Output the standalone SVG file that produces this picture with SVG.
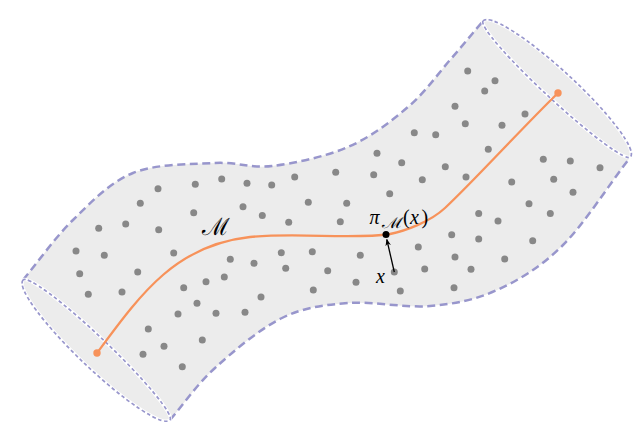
<svg xmlns="http://www.w3.org/2000/svg" width="643" height="435" viewBox="0 0 643 435">
<style>
.edge{fill:none;stroke:#9896cc;stroke-width:2.5;stroke-dasharray:8,4.5}
.halo{fill:none;stroke:#ffffff;stroke-width:3.4}
.cap{fill:none;stroke:#9896cc;stroke-width:1.7;stroke-dasharray:3.6,2.6}
.pt{fill:#888888}
.lbl{font-family:"Liberation Serif","DejaVu Serif",serif;font-style:italic;fill:#000}
.cal{font-family:"DejaVu Serif",serif;font-style:normal}
</style>
<defs>
<marker id="ah" viewBox="0 0 10 10" refX="9" refY="5" markerWidth="7" markerHeight="7" orient="auto" markerUnits="userSpaceOnUse">
<path d="M0,1 L10,5 L0,9 L3,5 Z" fill="#000"/>
</marker>
</defs>
<g id="tube">
<path fill="#ececec" d="M23,280 C39.7,260 54.7,237.8 73,220 C91.3,202.2 109.3,182.5 133,173 C156.7,163.5 191.8,164.2 215,163 C238.2,161.8 249.8,168.7 272,166 C294.2,163.3 325.3,156.8 348,147 C370.7,137.2 391,121.5 408,107 C425,92.5 437.5,74.3 450,60 C462.5,45.7 472,34 483,21 A100.1,18 42.77 0 1 630.5,157 C607.7,186.3 585.2,222.8 563,245 C540.8,267.2 519.2,279.8 497,290 C474.8,300.2 454.8,303.8 430,306 C405.2,308.2 372.7,301 348,303 C323.3,305 304.2,307.2 282,318 C259.8,328.8 233.7,351 215,368 C196.3,385 185,402.7 170,420 A101.4,18 43.66 0 1 23,280 Z"/>
<path class="edge" d="M23,280 C39.7,260 54.7,237.8 73,220 C91.3,202.2 109.3,182.5 133,173 C156.7,163.5 191.8,164.2 215,163 C238.2,161.8 249.8,168.7 272,166 C294.2,163.3 325.3,156.8 348,147 C370.7,137.2 391,121.5 408,107 C425,92.5 437.5,74.3 450,60 C462.5,45.7 472,34 483,21"/>
<path class="edge" d="M170,420 C185,402.7 196.3,385 215,368 C233.7,351 259.8,328.8 282,318 C304.2,307.2 323.3,305 348,303 C372.7,301 405.2,308.2 430,306 C454.8,303.8 474.8,300.2 497,290 C519.2,279.8 540.8,267.2 563,245 C585.2,222.8 607.7,186.3 630.5,157"/>
</g>
<g id="cap-top">
<path class="halo" d="M483,21 A100.1,18 42.77 0 1 630.5,157 A100.1,11 42.77 0 1 483,21"/>
<path class="cap" d="M483,21 A100.1,18 42.77 0 1 630.5,157 A100.1,11 42.77 0 1 483,21"/>
</g>
<g id="cap-bottom">
<path class="halo" d="M23,280 A101.4,18 43.66 0 0 170,420 A101.4,12 43.66 0 0 23,280"/>
<path class="cap" d="M23,280 A101.4,18 43.66 0 0 170,420 A101.4,12 43.66 0 0 23,280"/>
</g>
<g id="samples">
<circle class="pt" cx="158" cy="188.7" r="3.5"/><circle class="pt" cx="195.3" cy="184.3" r="3.5"/><circle class="pt" cx="140.3" cy="203.3" r="3.5"/><circle class="pt" cx="193.7" cy="212.7" r="3.5"/>
<circle class="pt" cx="414.3" cy="132.7" r="3.5"/><circle class="pt" cx="377" cy="153.3" r="3.5"/><circle class="pt" cx="401.7" cy="162.7" r="3.5"/><circle class="pt" cx="221.7" cy="179" r="3.5"/><circle class="pt" cx="247" cy="183.3" r="3.5"/><circle class="pt" cx="271.7" cy="185" r="3.5"/><circle class="pt" cx="294.7" cy="177" r="3.5"/><circle class="pt" cx="335.7" cy="172.3" r="3.5"/><circle class="pt" cx="373.7" cy="174.7" r="3.5"/><circle class="pt" cx="422.3" cy="179.7" r="3.5"/><circle class="pt" cx="389.7" cy="193.7" r="3.5"/><circle class="pt" cx="243" cy="206.7" r="3.5"/><circle class="pt" cx="262.3" cy="215.5" r="3.5"/><circle class="pt" cx="308.3" cy="202.3" r="3.5"/><circle class="pt" cx="346.7" cy="203.3" r="3.5"/>
<circle class="pt" cx="467.7" cy="71" r="3.5"/><circle class="pt" cx="495" cy="80.7" r="3.5"/><circle class="pt" cx="484.7" cy="91" r="3.5"/><circle class="pt" cx="455" cy="106.3" r="3.5"/><circle class="pt" cx="465.3" cy="123.7" r="3.5"/><circle class="pt" cx="502" cy="125.3" r="3.5"/><circle class="pt" cx="525" cy="114" r="3.5"/><circle class="pt" cx="435.7" cy="134.7" r="3.5"/><circle class="pt" cx="488.3" cy="149.3" r="3.5"/><circle class="pt" cx="445.3" cy="166.7" r="3.5"/><circle class="pt" cx="466" cy="177" r="3.5"/><circle class="pt" cx="511.7" cy="182" r="3.5"/><circle class="pt" cx="543.3" cy="159.3" r="3.5"/><circle class="pt" cx="570.3" cy="161" r="3.5"/><circle class="pt" cx="600" cy="167.7" r="3.5"/><circle class="pt" cx="553.7" cy="179.3" r="3.5"/><circle class="pt" cx="573" cy="192.3" r="3.5"/><circle class="pt" cx="529" cy="203.7" r="3.5"/><circle class="pt" cx="550.3" cy="213.5" r="3.5"/><circle class="pt" cx="478.7" cy="213.5" r="3.5"/><circle class="pt" cx="498" cy="221" r="3.5"/>
<circle class="pt" cx="98.7" cy="228.3" r="3.5"/><circle class="pt" cx="125.7" cy="224" r="3.5"/><circle class="pt" cx="158.7" cy="229.7" r="3.5"/><circle class="pt" cx="76" cy="251" r="3.5"/><circle class="pt" cx="104.3" cy="255.3" r="3.5"/><circle class="pt" cx="173.7" cy="253" r="3.5"/><circle class="pt" cx="79.7" cy="273.7" r="3.5"/><circle class="pt" cx="137.7" cy="272" r="3.5"/><circle class="pt" cx="88.3" cy="294.3" r="3.5"/><circle class="pt" cx="122" cy="292" r="3.5"/><circle class="pt" cx="183.7" cy="287.7" r="3.5"/><circle class="pt" cx="206" cy="281.7" r="3.5"/><circle class="pt" cx="197" cy="303.3" r="3.5"/><circle class="pt" cx="178" cy="314" r="3.5"/><circle class="pt" cx="148.3" cy="329" r="3.5"/><circle class="pt" cx="164" cy="346.3" r="3.5"/><circle class="pt" cx="143" cy="354.3" r="3.5"/><circle class="pt" cx="182.3" cy="366.7" r="3.5"/><circle class="pt" cx="202.3" cy="340" r="3.5"/><circle class="pt" cx="216" cy="313.2" r="3.5"/>
<circle class="pt" cx="288.7" cy="222.3" r="3.5"/><circle class="pt" cx="340.3" cy="221.7" r="3.5"/><circle class="pt" cx="230.3" cy="259.3" r="3.5"/><circle class="pt" cx="254" cy="263.3" r="3.5"/><circle class="pt" cx="281.3" cy="252.7" r="3.5"/><circle class="pt" cx="312.3" cy="251.7" r="3.5"/><circle class="pt" cx="360.3" cy="255.3" r="3.5"/><circle class="pt" cx="224.3" cy="277" r="3.5"/><circle class="pt" cx="285.7" cy="268.3" r="3.5"/><circle class="pt" cx="327.7" cy="270.7" r="3.5"/><circle class="pt" cx="356" cy="282.3" r="3.5"/><circle class="pt" cx="394.3" cy="272" r="3.5"/><circle class="pt" cx="418.3" cy="247" r="3.5"/><circle class="pt" cx="424.7" cy="269" r="3.5"/><circle class="pt" cx="400.3" cy="291" r="3.5"/><circle class="pt" cx="313.3" cy="290" r="3.5"/><circle class="pt" cx="261" cy="297" r="3.5"/><circle class="pt" cx="245" cy="312.3" r="3.5"/>
<circle class="pt" cx="451.7" cy="234.7" r="3.5"/><circle class="pt" cx="478.7" cy="239" r="3.5"/><circle class="pt" cx="532.7" cy="240.7" r="3.5"/><circle class="pt" cx="455" cy="257" r="3.5"/><circle class="pt" cx="504.7" cy="259" r="3.5"/><circle class="pt" cx="471" cy="269.3" r="3.5"/><circle class="pt" cx="454" cy="287.7" r="3.5"/>
</g>
<g id="manifold">
<path fill="none" stroke="#f7925a" stroke-width="2.3" d="M97,353 C140,295 175,245 250,237 C300,232 350,240 390,234 C405,231 430,222 445,208 C475,180 520,130 558,93"/>
<circle cx="97" cy="353" r="3.7" fill="#f7925a"/>
<circle cx="558" cy="93" r="3.7" fill="#f7925a"/>
</g>
<g id="connectors">
<line x1="394.3" y1="272" x2="386.8" y2="239.5" stroke="#000" stroke-width="1.3" marker-end="url(#ah)"/>
</g>
<g id="projection">
<circle cx="386" cy="234.5" r="3.5" fill="#000"/>
</g>
<g id="labels">
<text class="lbl cal" x="202" y="235" font-size="24" textLength="28" lengthAdjust="spacingAndGlyphs">ℳ</text>
<text class="lbl" x="369.5" y="224" font-size="20">π</text>
<text class="lbl cal" x="381.5" y="228" font-size="15" textLength="21" lengthAdjust="spacingAndGlyphs">ℳ</text>
<text class="lbl" y="224" font-size="20"><tspan x="403" font-style="normal">(</tspan><tspan x="410">x</tspan><tspan x="421.5" font-style="normal">)</tspan></text>
<text class="lbl" x="376" y="283" font-size="20">x</text>
</g>
</svg>
